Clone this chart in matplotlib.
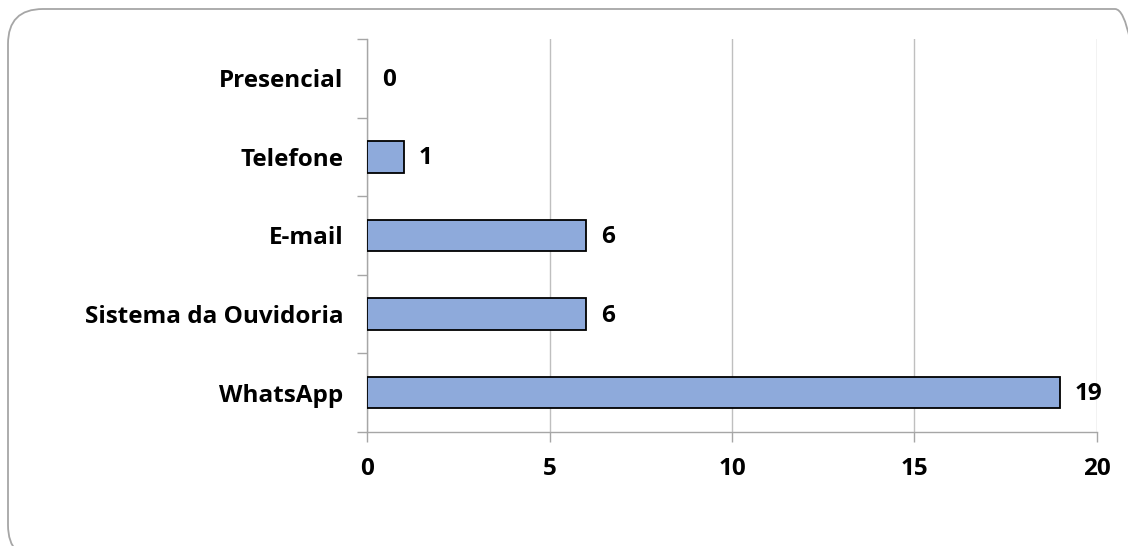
import matplotlib.pyplot as plt
from matplotlib.patches import FancyBboxPatch
from matplotlib.ticker import MultipleLocator, FixedLocator

canais = ['Presencial', 'Telefone', 'E-mail', 'Sistema da Ouvidoria', 'WhatsApp']
quantidade = [0, 1, 6, 6, 19]

plt.rcParams['font.family'] = ['Open Sans', 'DejaVu Sans']

fig = plt.figure(figsize=(11.28, 5.46), dpi=100)
ax = fig.add_axes([0.3254, 0.2088, 0.6471, 0.7198])

# moldura arredondada (passa um pouco da borda da imagem, como no original)
moldura = FancyBboxPatch((8 / 1128, -14 / 546), 1142 / 1128, 551 / 546,
                         boxstyle='round,pad=0,rounding_size=0.031',
                         transform=fig.transFigure, facecolor='none',
                         edgecolor='#a6a6a6', linewidth=1.3,
                         mutation_aspect=1128 / 546, clip_on=False)
fig.patches.append(moldura)

pos = list(range(len(canais)))[::-1]
bars = ax.barh(pos, quantidade, height=0.4, color='#8eaadb',
               edgecolor='black', linewidth=1.3, zorder=3)
for bar, v in zip(bars, quantidade):
    if v == 0:
        bar.set_linewidth(0)

for bar, v in zip(bars, quantidade):
    ax.text(bar.get_width() + 0.4, bar.get_y() + bar.get_height() / 2 - 0.02, str(v),
            ha='left', va='center', fontsize=17.5, fontweight='bold')

ax.set_xlim(0, 20)
ax.set_ylim(-0.5, len(canais) - 0.5)
ax.xaxis.set_major_locator(MultipleLocator(5))
ax.set_yticks(pos)
ax.set_yticklabels(canais, fontsize=17.5, fontweight='bold')
ax.yaxis.set_minor_locator(FixedLocator([p + 0.5 for p in range(-1, len(canais))]))
ax.tick_params(axis='y', which='major', length=0, pad=17)
ax.tick_params(axis='y', which='minor', length=7, color='#a6a6a6', width=1)
ax.tick_params(axis='x', length=7, color='#a6a6a6', width=1, labelsize=17.5, pad=11)
for lbl in ax.get_xticklabels():
    lbl.set_fontweight('bold')

ax.grid(axis='x', color='#bfbfbf', linewidth=1, zorder=0)
for s in ['top', 'right']:
    ax.spines[s].set_visible(False)
for s in ['left', 'bottom']:
    ax.spines[s].set_color('#a6a6a6')
    ax.spines[s].set_linewidth(1)

fig.savefig('out.png', dpi=100)
